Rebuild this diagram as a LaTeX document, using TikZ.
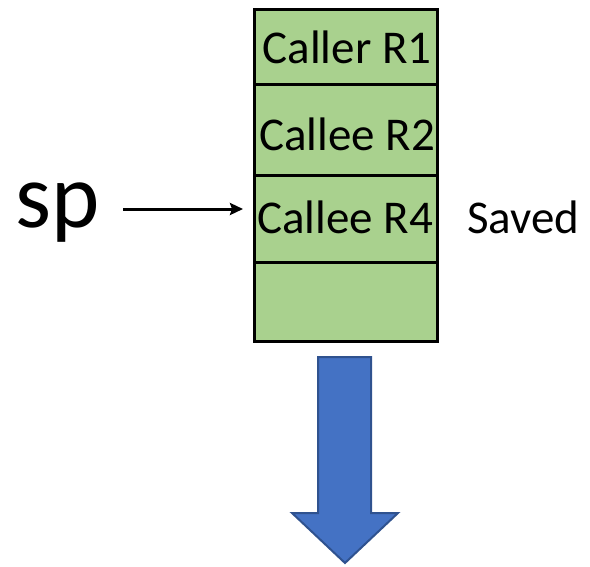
\documentclass[tikz,border=0pt]{standalone}
\usepackage{fontspec}
\setmainfont{Carlito}
\usetikzlibrary{arrows.meta}
\definecolor{cellgreen}{HTML}{A9D18E}
\definecolor{arrowblue}{HTML}{4472C4}
\definecolor{arrowedge}{HTML}{2F528F}
\begin{document}
\begin{tikzpicture}[x=1pt,y=-1pt,
  cell/.style={draw=black, fill=cellgreen, line width=3.2pt, inner sep=0pt,
    minimum width=183pt, anchor=north west},
  celltext/.style={anchor=base, font=\fontsize{47}{50}\selectfont, inner sep=0pt},
  pointer/.style={-{Stealth[length=13pt,width=12pt,inset=2pt]}, line width=3pt}]
\useasboundingbox (0,0) rectangle (590,566);
% stack frame cells
\node[cell, minimum height=75pt] (c1) at (253,8) {};
\node[cell, minimum height=91pt] (c2) at (253,83) {};
\node[cell, minimum height=87pt] (c3) at (253,174) {};
\node[cell, minimum height=79pt] (c4) at (253,261) {};
\node[celltext] (t1) at (347,63) {Caller R1};
\node[celltext] (t2) at (347,150) {Callee R2};
\node[celltext] (t3) at (345,233) {Callee R4};
\node[celltext, anchor=base west] (saved) at (467,233) {Saved};
% stack pointer
\node[anchor=base, font=\fontsize{92}{96}\selectfont, inner sep=0pt] (sp) at (58,227) {sp};
\coordinate (spstart) at (123,209);
\coordinate (spend) at (243,209);
\draw[pointer] (spstart) -- (spend);
% growth direction arrow
\draw[fill=arrowblue, draw=arrowedge, line width=2pt, line join=miter]
  (318,357) -- (371,357) -- (371,513) -- (398,513) -- (345,563)
  -- (292,513) -- (318,513) -- cycle;
\end{tikzpicture}
\end{document}
